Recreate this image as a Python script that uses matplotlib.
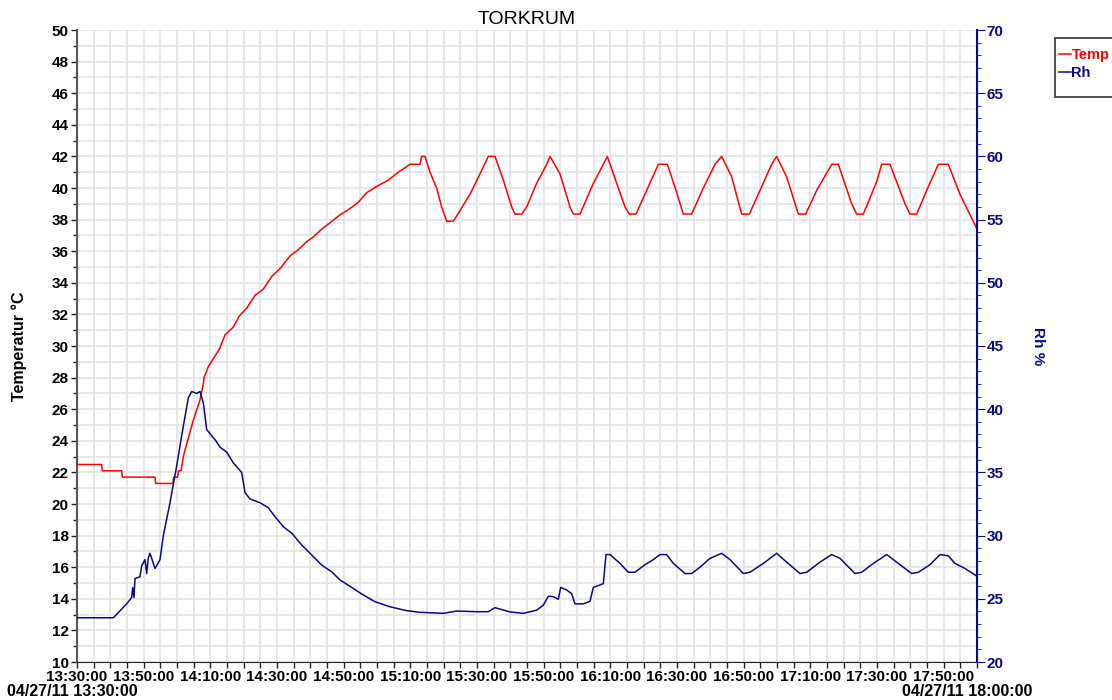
import matplotlib.pyplot as plt
from matplotlib.patches import Rectangle
from matplotlib.ticker import MultipleLocator

plt.rcParams['font.family'] = ['Liberation Sans', 'DejaVu Sans']

# minutes after 13:30:00
temp_min = [0, 7.4, 7.6, 13.4, 13.6, 23.4, 23.6, 28.8, 29.0, 30.2, 30.4, 31.2, 31.9, 32.9,
            34.9, 36.9, 37.9, 38.1, 39.4, 40.9, 42.7, 44.4, 46.9, 48.7, 50.9, 53.4, 55.9,
            58.4, 60.9, 63.9, 66.4, 68.9, 70.9, 73.4, 75.9, 78.9, 81.9, 84.4, 86.9, 89.9,
            93.4, 96.4, 99.9, 102.9, 103.4, 104.4, 105.9, 107.9, 109.4, 110.9, 112.9, 114.4,
            117.9, 120.9, 123.4, 125.4, 127.9, 130.4, 131.4, 133.4, 134.9, 137.9, 140.9,
            141.9, 144.9, 147.9, 148.9, 150.9, 154.9, 157.9, 159.1, 160.9, 164.4, 165.7,
            167.7, 170.9, 174.4, 177.1, 179.4, 181.9, 184.4, 187.9, 191.4, 193.4, 196.4,
            199.4, 201.7, 204.9, 208.4, 209.9, 212.9, 216.4, 218.6, 221.9, 226.4, 228.4,
            232.4, 233.9, 235.9, 239.9, 241.4, 243.9, 248.4, 249.9, 251.9, 254.9, 258.4,
            261.4, 264.9, 269.9]
temp_val = [22.5, 22.5, 22.1, 22.1, 21.7, 21.7, 21.3, 21.3, 21.7, 21.7, 22.1, 22.1, 23.0, 23.8,
            25.3, 26.6, 27.6, 28.0, 28.7, 29.2, 29.8, 30.7, 31.2, 31.9, 32.4, 33.2, 33.6,
            34.4, 34.9, 35.7, 36.1, 36.6, 36.9, 37.4, 37.8, 38.3, 38.7, 39.1, 39.7, 40.1,
            40.5, 41.0, 41.5, 41.5, 42.0, 42.0, 41.0, 40.0, 38.8, 37.9, 37.9, 38.4,
            39.6, 40.9, 42.0, 42.0, 40.5, 38.8, 38.35, 38.35, 38.8, 40.3, 41.5,
            42.0, 40.9, 38.8, 38.35, 38.35, 40.3, 41.5, 42.0, 40.9, 38.8, 38.35,
            38.35, 39.85, 41.5, 41.5, 40.05, 38.35, 38.35, 40.0, 41.5, 42.0, 40.7,
            38.35, 38.35, 39.85, 41.5, 42.0, 40.7, 38.35, 38.35, 39.85, 41.5, 41.5,
            39.0, 38.35, 38.35, 40.4, 41.5, 41.5, 39.0, 38.35, 38.35, 39.85, 41.5,
            41.5, 39.6, 37.45]

rh_min = [0, 10.9, 14.9, 16.4, 16.7, 17.1, 17.4, 18.9, 19.4, 20.4, 20.9, 21.4, 21.9, 23.4,
          24.9, 25.9, 27.9, 29.9, 31.4, 33.4, 34.4, 35.9, 36.9, 37.9, 38.9, 40.4, 41.4,
          42.9, 44.9, 46.9, 49.4, 50.4, 51.9, 54.9, 57.4, 59.4, 61.9, 64.4, 67.4, 70.4,
          73.4, 76.4, 78.9, 82.4, 85.4, 89.4, 93.9, 98.9, 102.9, 109.9, 113.9, 119.9,
          123.4, 125.4, 129.9, 133.9, 137.9, 139.9, 141.4, 142.9, 144.4, 145.1, 146.9,
          148.4, 149.4, 151.9, 153.9, 154.9, 157.9, 158.7, 159.9, 162.9, 165.4, 167.4,
          170.4, 172.9, 174.9, 176.9, 178.9, 182.4, 184.4, 186.9, 189.9, 193.4, 195.9,
          199.9, 201.9, 205.9, 209.9, 212.9, 216.9, 218.9, 222.9, 226.4, 228.9, 233.4,
          235.4, 238.9, 242.9, 245.9, 250.4, 252.4, 255.9, 258.9, 261.4, 263.4, 266.4,
          269.9]
rh_val = [23.5, 23.5, 24.6, 25.1, 25.9, 25.1, 26.6, 26.75, 27.6, 28.1, 27.0, 28.25, 28.6, 27.4,
          28.1, 30.0, 32.6, 35.5, 37.9, 40.9, 41.4, 41.25, 41.4, 40.5, 38.4, 37.9, 37.6,
          37.0, 36.6, 35.75, 35.0, 33.4, 32.9, 32.6, 32.2, 31.5, 30.7, 30.2, 29.26, 28.47,
          27.67, 27.14, 26.49, 25.9, 25.38, 24.77, 24.37, 24.06, 23.93, 23.85, 24.03, 23.98,
          23.98, 24.3, 23.96, 23.85, 24.1, 24.5, 25.2, 25.17, 24.96, 25.9, 25.7,
          25.4, 24.6, 24.6, 24.8, 25.9, 26.2, 28.5, 28.5, 27.8, 27.1, 27.1,
          27.7, 28.1, 28.5, 28.5, 27.8, 27.0, 27.0, 27.5, 28.2, 28.6, 28.1,
          27.0, 27.1, 27.8, 28.6, 27.9, 27.0, 27.1, 27.9, 28.5, 28.2, 27.0,
          27.1, 27.8, 28.5, 27.9, 27.0, 27.1, 27.7, 28.5, 28.4, 27.8, 27.4,
          26.8]

tick_min = list(range(0, 270, 20))
tick_labels = ['13:30:00', '13:50:00', '14:10:00', '14:30:00', '14:50:00', '15:10:00',
               '15:30:00', '15:50:00', '16:10:00', '16:30:00', '16:50:00', '17:10:00',
               '17:30:00', '17:50:00']

navy = '#0a0a80'
fs = 11

fig = plt.figure(figsize=(11.12, 7), dpi=100)
ax = fig.add_axes([77 / 1112, 38 / 700, 900 / 1112, 632 / 700])
ax2 = ax.twinx()

ax.plot(temp_min, temp_val, color='#ff0000', lw=1.1, label='Temp', zorder=3)
ax2.plot(rh_min, rh_val, color=navy, lw=1.1, label='Rh')

ax.set_xlim(0, 270)
ax.set_ylim(10, 50)
ax2.set_ylim(20, 70)

ax.set_xticks(tick_min)
ax.set_xticklabels(tick_labels)
ax.xaxis.set_minor_locator(MultipleLocator(5))
ax.yaxis.set_major_locator(MultipleLocator(2))
ax.yaxis.set_minor_locator(MultipleLocator(1))
ax2.yaxis.set_major_locator(MultipleLocator(5))
ax2.yaxis.set_minor_locator(MultipleLocator(1))

ax.grid(True, which='both', color='#e3e3e3', lw=1.2)
ax.set_axisbelow(True)

ax.tick_params(axis='both', which='both', length=4, width=1, direction='out', colors='#222222',
               labelsize=fs, pad=2)
ax.tick_params(axis='y', which='minor', length=3)
ax2.tick_params(axis='y', which='both', colors=navy, labelsize=fs, pad=1)
ax2.tick_params(axis='y', which='major', length=6)
ax2.tick_params(axis='y', which='minor', length=3)
for lab in ax.get_xticklabels() + ax.get_yticklabels():
    lab.set_fontweight('bold')
    lab.set_color('black')
for lab in ax2.get_yticklabels():
    lab.set_fontweight('bold')
    lab.set_color(navy)

for a in (ax, ax2):
    a.spines['top'].set_visible(False)
ax.spines['left'].set_color('#555555')
ax.spines['left'].set_linewidth(1.5)
ax.spines['bottom'].set_color('#222222')
ax2.spines['right'].set_color(navy)
ax2.spines['right'].set_linewidth(1.5)
ax2.spines['left'].set_visible(False)
ax2.spines['bottom'].set_visible(False)

ax.set_title('TORKRUM', fontsize=14, pad=4)
ax.set_ylabel('Temperatur °C', fontsize=11.5, fontweight='bold', labelpad=18)
ax2.set_ylabel('Rh %', fontsize=11, fontweight='bold', color=navy, rotation=-90, labelpad=30)

fig.text(7 / 1112, 1 - 692 / 700, '04/27/11 13:30:00', fontsize=11.5, fontweight='bold',
         va='center', ha='left')
fig.text(1032 / 1112, 1 - 692 / 700, '04/27/11 18:00:00', fontsize=11.5, fontweight='bold',
         va='center', ha='right')

# legend box, running off the right edge like the original
fig.patches.append(Rectangle((1055 / 1112, 1 - 97 / 700), 70 / 1112, 59 / 700,
                             transform=fig.transFigure, facecolor='white',
                             edgecolor='#333333', lw=1.2, zorder=1))
h1, l1 = ax.get_legend_handles_labels()
h2, l2 = ax2.get_legend_handles_labels()
fig.legend(h1 + h2, l1 + l2, loc='upper left', bbox_to_anchor=(1059 / 1112, 1 - 48 / 700),
           frameon=False, handlelength=0.8, handletextpad=0.05, borderpad=0,
           borderaxespad=0, labelspacing=0.25, prop={'weight': 'bold', 'size': 10.5},
           labelcolor='linecolor')

fig.savefig('out.png', dpi=100)
